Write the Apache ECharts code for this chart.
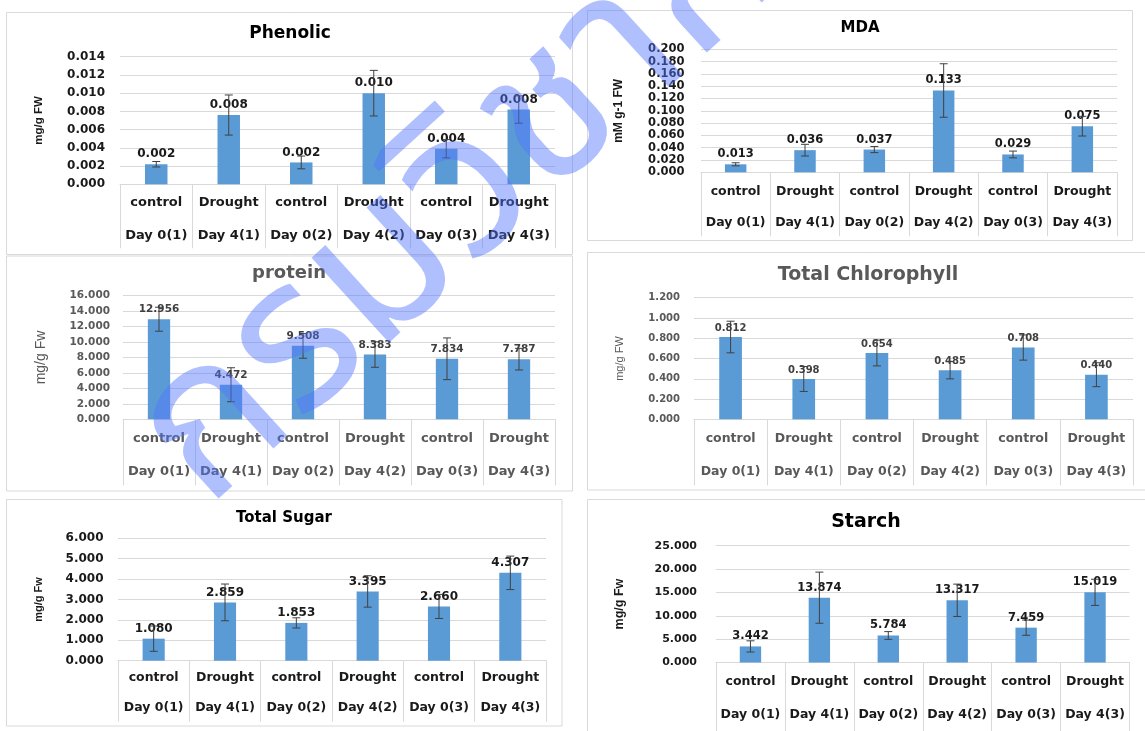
<!DOCTYPE html>
<html>
<head>
<meta charset="utf-8">
<script src="https://cdn.jsdelivr.net/npm/echarts@6/dist/echarts.min.js"></script>
<style>
  html, body { margin: 0; padding: 0; background: #fff; }
  #main { width: 1145px; height: 731px; }
</style>
</head>
<body>
<div id="main"></div>
<script>
// category rows (two-level axis)
const treatments = ['control', 'Drought', 'control', 'Drought', 'control', 'Drought'];
const days = ['Day 0(1)', 'Day 4(1)', 'Day 0(2)', 'Day 4(2)', 'Day 0(3)', 'Day 4(3)'];

// means and error bar half-widths
const phenolicMean = [0.0022, 0.0076, 0.0024, 0.0100, 0.0039, 0.0082];
const phenolicErr  = [0.0003, 0.0022, 0.0007, 0.0025, 0.0010, 0.0015];
const mdaMean = [0.013, 0.036, 0.037, 0.133, 0.029, 0.075];
const mdaErr  = [0.0025, 0.0095, 0.005, 0.0435, 0.0055, 0.016];
const proteinMean = [12.956, 4.472, 9.508, 8.383, 7.834, 7.787];
const proteinErr  = [1.55, 2.2, 1.6, 1.65, 2.7, 1.4];
const chlMean = [0.812, 0.398, 0.654, 0.485, 0.708, 0.440];
const chlErr  = [0.156, 0.123, 0.127, 0.086, 0.124, 0.118];
const sugarMean = [1.080, 2.859, 1.853, 3.395, 2.660, 4.307];
const sugarErr  = [0.62, 0.90, 0.25, 0.77, 0.59, 0.82];
const starchMean = [3.442, 13.874, 5.784, 13.317, 7.459, 15.019];
const starchErr  = [1.2, 5.47, 0.83, 3.46, 1.63, 2.8];

const titles = ['Phenolic', 'MDA', 'protein', 'Total Chlorophyll', 'Total Sugar', 'Starch'];
const unitNames = ['mg/g FW', 'mM g-1 FW', 'mg/g Fw', 'mg/g FW', 'mg/g Fw', 'mg/g Fw'];
const yMax = [0.014, 0.2, 16, 1.2, 6, 25];
const yStep = [0.002, 0.02, 2, 0.2, 1, 5];
const watermark = 'กรมวิชาการ';

const means = [phenolicMean, mdaMean, proteinMean, chlMean, sugarMean, starchMean];
const errs = [phenolicErr, mdaErr, proteinErr, chlErr, sugarErr, starchErr];

const DARK = '#1a1a1a';
const GRAY = '#595959';
const LINE = '#d9d9d9';
const BAR = '#5b9bd5';
const FONT = 'DejaVu Sans';
const NARROW = '"Liberation Sans Narrow", "Liberation Sans", sans-serif';

// layout/style for each panel
const panels = [
  { grid: {left: 120, top: 56.7, width: 435, height: 127.6}, title: [290, 32, 17], color: DARK,
    nameGap: 75, nameSize: 11.5, nameWeight: 'bold', tick: 12, tickMargin: 15, cat: 13, catLH: 33, catMargin: 1.5, tickLen: 64, lbl: 12 },
  { grid: {left: 701, top: 49.3, width: 416, height: 123}, title: [860, 27, 15], color: DARK,
    nameGap: 76, nameSize: 12, nameWeight: 'bold', tick: 11.5, tickMargin: 16.5, cat: 12.5, catLH: 31, catMargin: 4, tickLen: 64, lbl: 11.5 },
  { grid: {left: 123, top: 295.7, width: 432, height: 123.6}, title: [289, 272, 18], color: GRAY,
    nameGap: 75, nameSize: 14, nameWeight: 'normal', tick: 10.5, tickMargin: 13, cat: 13, catLH: 33, catMargin: 3, tickLen: 66, lbl: 10.5 },
  { grid: {left: 694, top: 297.7, width: 439, height: 121.6}, title: [868, 273, 19], color: GRAY,
    nameGap: 69, nameSize: 11, nameWeight: 'normal', tick: 10, tickMargin: 14, cat: 12.5, catLH: 33, catMargin: 3, tickLen: 66, lbl: 10 },
  { grid: {left: 118, top: 538.3, width: 428, height: 122.4}, title: [284, 517, 15], color: DARK,
    nameGap: 74, nameSize: 11, nameWeight: 'bold', tick: 12, tickMargin: 14.5, cat: 12.5, catLH: 30, catMargin: 2.5, tickLen: 61, lbl: 12 },
  { grid: {left: 716, top: 545.7, width: 413.5, height: 120.3}, title: [866, 520, 19], color: DARK,
    nameGap: 90, nameSize: 12.5, nameWeight: 'bold', tick: 11, tickMargin: 19, cat: 12.5, catLH: 33, catMargin: 2.5, tickLen: 70, lbl: 11.5 }
];

// panel frames
const frames = [
  [6.5, 12.5, 566, 242], [587.5, 10.5, 545, 230],
  [6.5, 256, 566, 235], [587.5, 252.5, 600, 237.5],
  [6.5, 499.5, 555.5, 226.5], [587.5, 499.5, 600, 260]
];

const catLabels = treatments.map((t, i) => t + '\n' + days[i]);

function errorItem(params, api) {
  const x = api.value(0), y = api.value(1), e = api.value(2);
  const hi = api.coord([x, y + e]);
  const lo = api.coord([x, y - e]);
  const st = { stroke: '#404040', lineWidth: 1 };
  const w = 4;
  return {
    type: 'group',
    children: [
      { type: 'line', shape: { x1: hi[0], y1: hi[1], x2: lo[0], y2: lo[1] }, style: st },
      { type: 'line', shape: { x1: hi[0] - w, y1: hi[1], x2: hi[0] + w, y2: hi[1] }, style: st },
      { type: 'line', shape: { x1: lo[0] - w, y1: lo[1], x2: lo[0] + w, y2: lo[1] }, style: st }
    ]
  };
}

const option = {
  backgroundColor: '#fff',
  animation: false,
  title: [], grid: [], xAxis: [], yAxis: [], series: [],
  graphic: frames.map(f => ({
    type: 'rect', silent: true, z: -1,
    shape: { x: f[0], y: f[1], width: f[2], height: f[3] },
    style: { fill: null, stroke: LINE, lineWidth: 1 }
  })).concat([{
    // diagonal watermark over the charts
    type: 'text', silent: true, z: 100,
    x: 178, y: 478, rotation: 0.74,
    style: { text: watermark, fontSize: 210, fontFamily: 'Noto Sans Thai, DejaVu Sans, sans-serif',
      fill: 'rgba(80, 115, 255, 0.45)', align: 'left', verticalAlign: 'middle' }
  }])
};

panels.forEach((p, i) => {
  option.title.push({
    text: titles[i], left: p.title[0], top: p.title[1] - p.title[2] * 0.4,
    textAlign: 'center', padding: 0,
    textStyle: { fontFamily: FONT, fontWeight: 'bold', fontSize: p.title[2], color: p.color === GRAY ? GRAY : '#000' }
  });
  option.grid.push(Object.assign({ containLabel: false }, p.grid));
  option.xAxis.push({
    type: 'category', gridIndex: i, data: catLabels,
    axisLine: { lineStyle: { color: LINE, width: 1 } },
    axisTick: { show: true, alignWithLabel: false, length: p.tickLen, lineStyle: { color: LINE } },
    axisLabel: { interval: 0, margin: p.catMargin, lineHeight: p.catLH, fontFamily: FONT,
      fontWeight: 'bold', fontSize: p.cat, color: p.color }
  });
  option.yAxis.push({
    type: 'value', gridIndex: i, min: 0, max: yMax[i], interval: yStep[i],
    name: unitNames[i], nameLocation: 'middle', nameRotate: 90, nameGap: p.nameGap,
    nameTextStyle: { fontFamily: NARROW, fontWeight: p.nameWeight, fontSize: p.nameSize, color: p.color },
    axisLine: { show: false }, axisTick: { show: false },
    splitLine: { lineStyle: { color: LINE, width: 1 } },
    axisLabel: { margin: p.tickMargin, fontFamily: FONT, fontWeight: 'bold', fontSize: p.tick, color: p.color,
      formatter: v => v.toFixed(3) }
  });
  option.series.push({
    type: 'bar', xAxisIndex: i, yAxisIndex: i, data: means[i], barWidth: '31%',
    itemStyle: { color: BAR },
    label: { show: true, position: 'top', distance: 4, fontFamily: FONT, fontWeight: 'bold',
      fontSize: p.lbl, color: p.color === GRAY ? '#404040' : DARK, formatter: d => d.value.toFixed(3) }
  });
  option.series.push({
    type: 'custom', xAxisIndex: i, yAxisIndex: i, z: 4,
    renderItem: errorItem,
    encode: { x: 0, y: 1 },
    data: means[i].map((m, k) => [k, m, errs[i][k]])
  });
});

const chart = echarts.init(document.getElementById('main'), null, { renderer: 'canvas' });
chart.setOption(option);
</script>
</body>
</html>
